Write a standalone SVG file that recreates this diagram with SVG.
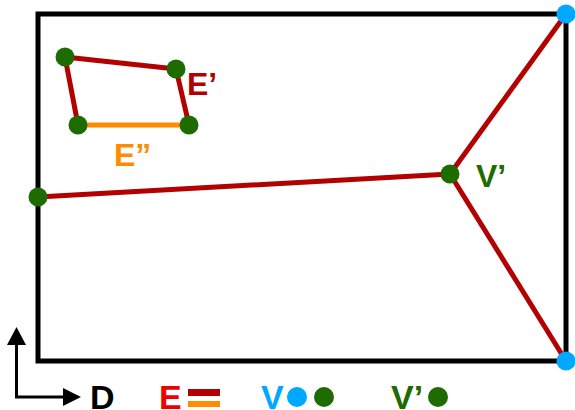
<svg xmlns="http://www.w3.org/2000/svg" width="575" height="410" viewBox="0 0 575 410">
<defs>
<style>
.frame{fill:none;stroke:#000;stroke-width:5}
.e{stroke:#b30000;stroke-width:5;fill:none}
.e2{stroke:#ff8c00;stroke-width:5;fill:none}
.v{fill:#00a8ff}
.vp{fill:#1e6b00}
.t{font-family:"Liberation Sans",Arial,sans-serif;font-weight:bold;font-size:32px}
.lt{font-family:"Liberation Sans",Arial,sans-serif;font-weight:bold;font-size:34px}
.ax{stroke:#000;stroke-width:3;fill:none}
</style>
</defs>
<rect class="frame" x="38" y="14" width="528" height="347"/>
<g id="connectors">
<line class="e" x1="38" y1="197" x2="450" y2="174"/>
<line class="e" x1="450" y1="174" x2="566" y2="14"/>
<line class="e" x1="450" y1="174" x2="566" y2="361"/>
<line class="e" x1="65" y1="57" x2="176" y2="69"/>
<line class="e" x1="65" y1="57" x2="78" y2="125"/>
<line class="e" x1="176" y1="69" x2="189" y2="125"/>
<line class="e2" x1="78" y1="125" x2="189" y2="125"/>
</g>
<g id="v-tr"><circle class="v" cx="566" cy="14" r="9.5"/></g>
<g id="v-br"><circle class="v" cx="566" cy="361" r="9.5"/></g>
<g id="vp-center"><circle class="vp" cx="450" cy="174" r="9.5"/></g>
<g id="vp-left"><circle class="vp" cx="38" cy="197" r="9.5"/></g>
<g id="q1"><circle class="vp" cx="65" cy="57" r="9.5"/></g>
<g id="q2"><circle class="vp" cx="176" cy="69" r="9.5"/></g>
<g id="q3"><circle class="vp" cx="189" cy="125" r="9.5"/></g>
<g id="q4"><circle class="vp" cx="78" cy="125" r="9.5"/></g>
<text class="t" x="187" y="95" fill="#b30000">E’</text>
<text class="t" x="114" y="166" fill="#ff8c00">E”</text>
<text class="t" x="476" y="187" fill="#1e6b00">V’</text>
<g id="legend">
<polyline class="ax" points="16.5,344 16.5,397 64,397"/>
<path d="M16.5,327 L7,345 L26,345 z" fill="#000"/>
<path d="M81,397 L63,388 L63,406 z" fill="#000"/>
<text class="lt" x="90" y="409" fill="#000">D</text>
<text class="lt" x="159" y="409" fill="#ee0000">E</text>
<rect x="188" y="389" width="32" height="7" fill="#b30000"/>
<rect x="188" y="401" width="32" height="6" fill="#ff8c00"/>
<text class="lt" x="261" y="409" fill="#00a8ff">V</text>
<circle class="v" cx="297" cy="397" r="10"/>
<circle class="vp" cx="324" cy="397" r="10"/>
<text class="lt" x="391" y="409" fill="#1e6b00">V’</text>
<circle class="vp" cx="438" cy="397" r="10"/>
</g>
</svg>
